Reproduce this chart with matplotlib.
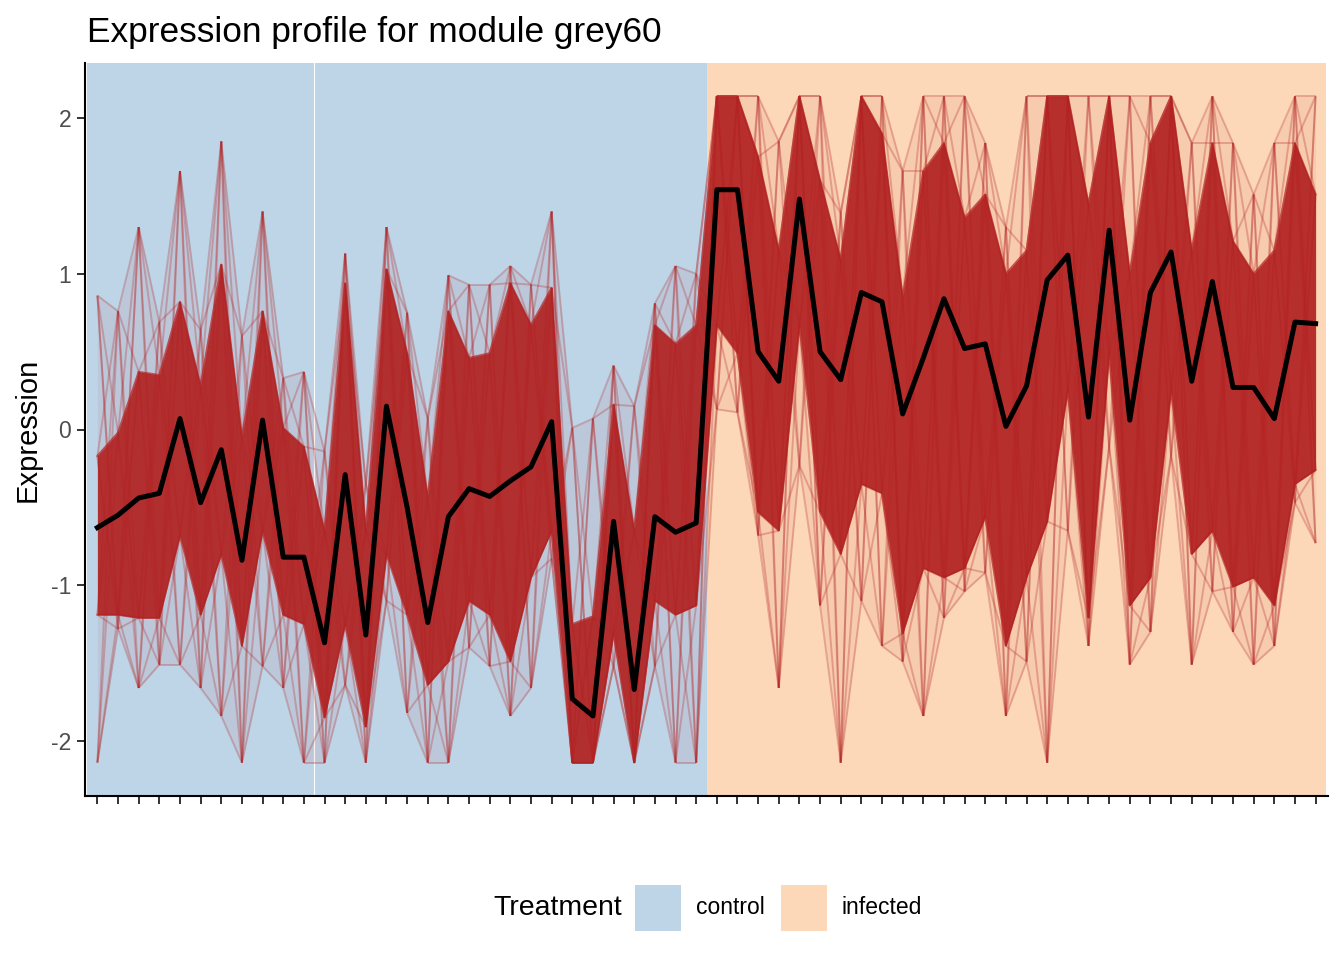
import matplotlib
matplotlib.use("Agg")
import matplotlib.pyplot as plt
from matplotlib.collections import LineCollection
from matplotlib.patches import Rectangle
import numpy as np

plt.rcParams["font.family"] = ["Liberation Sans", "DejaVu Sans"]

# sample treatment (60 samples, no x labels shown)
treatment = ["control"] * 30 + ["infected"] * 30

# mean module profile (black line)
mean_expr = [
    -0.63, -0.55, -0.44, -0.41, 0.07, -0.47, -0.13, -0.84, 0.06, -0.82,
    -0.82, -1.37, -0.29, -1.32, 0.15, -0.50, -1.24, -0.56, -0.38, -0.43,
    -0.33, -0.24, 0.05, -1.73, -1.84, -0.59, -1.67, -0.56, -0.66, -0.60,
    1.54, 1.54, 0.50, 0.31, 1.48, 0.50, 0.32, 0.88, 0.82, 0.10,
    0.46, 0.84, 0.52, 0.55, 0.02, 0.28, 0.96, 1.12, 0.08, 1.28,
    0.06, 0.88, 1.14, 0.31, 0.95, 0.27, 0.27, 0.07, 0.69, 0.68,
]

# spread of the individual gene profiles
gene_max = [
    0.86, 0.76, 1.30, 0.69, 1.66, 0.64, 1.85, 0.60, 1.40, 0.33,
    0.37, -0.14, 1.13, -0.35, 1.30, 0.75, 0.07, 0.99, 0.93, 0.93,
    1.05, 0.93, 1.40, 0.01, 0.07, 0.41, 0.15, 0.81, 1.05, 1.00,
    2.14, 2.14, 2.14, 1.85, 2.14, 2.14, 1.39, 2.14, 2.14, 1.66,
    2.14, 2.14, 2.14, 1.84, 1.30, 2.14, 2.14, 2.14, 2.14, 2.14,
    2.14, 2.14, 2.14, 1.84, 2.14, 1.84, 1.51, 1.84, 2.14, 2.14,
]
gene_hi = [
    -0.17, -0.02, 0.37, 0.35, 0.82, 0.28, 1.06, -0.05, 0.76, 0.01,
    -0.11, -0.65, 0.94, -0.65, 1.03, 0.49, -0.44, 0.76, 0.46, 0.49,
    0.94, 0.67, 0.91, -1.25, -1.20, 0.16, -0.65, 0.67, 0.55, 0.67,
    2.14, 2.14, 1.75, 1.15, 2.14, 1.60, 1.09, 2.14, 1.90, 0.85,
    1.66, 1.84, 1.36, 1.51, 1.00, 1.15, 2.14, 2.14, 1.45, 2.14,
    1.00, 1.84, 2.14, 1.15, 1.84, 1.21, 1.00, 1.15, 1.84, 1.51,
]
gene_lo = [
    -1.19, -1.19, -1.21, -1.21, -0.68, -1.19, -0.80, -1.39, -0.65, -1.19,
    -1.25, -1.85, -1.25, -1.91, -0.80, -1.19, -1.64, -1.49, -1.10, -1.19,
    -1.49, -0.95, -0.65, -2.14, -2.14, -1.31, -2.14, -1.10, -1.19, -1.13,
    0.67, 0.49, -0.53, -0.65, 0.67, -0.53, -0.80, -0.35, -0.41, -1.31,
    -0.89, -0.95, -0.89, -0.56, -1.39, -0.95, -0.59, 0.25, -1.21, 0.49,
    -1.13, -0.95, 0.25, -0.80, -0.65, -1.01, -0.95, -1.13, -0.35, -0.26,
]
gene_min = [
    -2.14, -1.28, -1.66, -1.51, -1.51, -1.66, -1.84, -2.14, -1.52, -1.66,
    -2.14, -2.14, -1.64, -2.14, -1.10, -1.82, -2.14, -2.14, -1.40, -1.52,
    -1.84, -1.66, -0.83, -2.14, -2.14, -1.52, -2.14, -1.52, -2.14, -2.14,
    0.13, 0.11, -0.68, -1.66, -0.23, -1.13, -2.14, -1.10, -1.39, -1.49,
    -1.84, -1.21, -1.04, -0.92, -1.84, -1.49, -2.14, -0.65, -1.39, -0.11,
    -1.51, -1.30, -0.17, -1.51, -1.04, -1.30, -1.51, -1.39, -0.47, -0.73,
]

group_colors = {"control": "#BDD5E7", "infected": "#FDD8B8"}
line_red = "#B22222"

fig = plt.figure(figsize=(13.44, 9.6), dpi=100)
ax = fig.add_axes([85 / 1344, 1 - 796 / 960, (1328 - 85) / 1344, (796 - 63) / 960])

x = np.arange(len(treatment))

# background tiles per sample
for i, grp in enumerate(treatment):
    ax.axvspan(i - 0.5, i + 0.5, color=group_colors[grp], lw=0, zorder=0)
ax.axvline(10.5, color="white", lw=0.8, zorder=0.5)

# faint gene lines: every pair of spread levels joined between neighbouring samples
levels = [np.asarray(a) for a in (gene_max, gene_hi, gene_lo, gene_min)]
segs = []
for a in levels:
    for b in levels:
        for i in range(len(x) - 1):
            segs.append([(x[i], a[i]), (x[i + 1], b[i + 1])])
ax.add_collection(LineCollection(segs, colors=line_red, alpha=0.28,
                                 linewidths=1.4, zorder=1.5))

# dense core of the gene profiles
ax.fill_between(x, gene_min, gene_max, color=line_red, alpha=0.07, lw=0, zorder=1)
ax.fill_between(x, gene_lo, gene_hi, color=line_red, alpha=0.92, lw=0, zorder=2)
for arr in (gene_hi, gene_lo):
    ax.plot(x, arr, color=line_red, alpha=0.6, lw=1.4, zorder=2)

# mean profile
ax.plot(x, mean_expr, color="black", lw=3.6, zorder=3)

ax.set_xlim(-0.6, len(treatment) - 0.4)
ax.set_ylim(-2.354, 2.354)
ax.set_xticks(x)
ax.set_xticklabels([])
ax.set_yticks([-2, -1, 0, 1, 2])
ax.set_yticklabels(["-2", "-1", "0", "1", "2"])
ax.tick_params(axis="both", length=6, width=1.4, color="#333333",
               labelsize=16.5, labelcolor="#4D4D4D", pad=4)
for side in ("top", "right"):
    ax.spines[side].set_visible(False)
for side in ("left", "bottom"):
    ax.spines[side].set_linewidth(1.5)
    ax.spines[side].set_color("black")

fig.text(87 / 1344, 1 - 42 / 960, "Expression profile for module grey60",
         fontsize=25.4, ha="left", va="baseline")
fig.text(28 / 1344, 1 - 430 / 960, "Expression", fontsize=21,
         rotation=90, ha="center", va="center")

# legend (horizontal, title on the left)
fig.text(493 / 1344, 1 - 908 / 960, "Treatment", fontsize=20.5,
         ha="left", va="center")
legend_items = [("control", 635, 696), ("infected", 781, 841)]
for label, key_x, text_x in legend_items:
    fig.add_artist(Rectangle((key_x / 1344, 1 - 931 / 960), 46 / 1344, 46 / 960,
                             transform=fig.transFigure,
                             facecolor=group_colors[label], edgecolor="none"))
    fig.text(text_x / 1344, 1 - 908 / 960, label, fontsize=16.5,
             ha="left", va="center")

fig.savefig("out.png", dpi=100)
